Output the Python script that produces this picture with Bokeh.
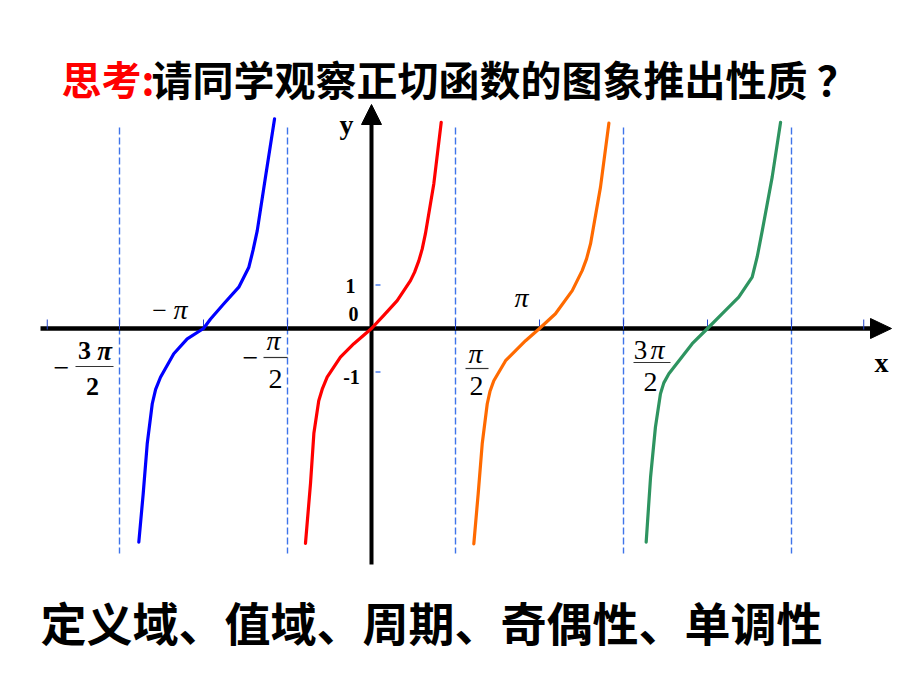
from bokeh.plotting import figure
from bokeh.models import Range1d
from bokeh.core.properties import value
from bokeh.embed import file_html
from bokeh.resources import INLINE

# ---------------- data (x in multiples of pi, y = value of tan branch as drawn) -------------
blue_x = [-0.577, -0.631, -0.680, -0.705, -0.730, -0.790, -0.879, -0.958, -1.000, -1.097, -1.177, -1.256, -1.285, -1.305, -1.335, -1.359, -1.385]
blue_y = [4.82, 3.48, 2.25, 1.80, 1.41, 0.95, 0.57, 0.22, 0.00, -0.24, -0.58, -1.12, -1.40, -1.73, -2.65, -3.80, -4.91]

red_x = [0.415, 0.371, 0.321, 0.302, 0.282, 0.256, 0.232, 0.153, 0.073, 0.000, -0.105, -0.185, -0.264, -0.292, -0.314, -0.343, -0.363, -0.393]
red_y = [4.74, 3.33, 2.18, 1.83, 1.56, 1.29, 1.10, 0.64, 0.30, 0.00, -0.35, -0.66, -1.12, -1.38, -1.66, -2.41, -3.56, -4.94]

orange_x = [1.413, 1.363, 1.304, 1.280, 1.254, 1.195, 1.095, 1.000, 0.917, 0.798, 0.728, 0.705, 0.689, 0.659, 0.635, 0.609]
orange_y = [4.72, 3.25, 1.95, 1.60, 1.33, 0.87, 0.34, 0.00, -0.28, -0.74, -1.20, -1.45, -1.73, -2.65, -3.80, -4.95]

green_x = [2.435, 2.385, 2.326, 2.296, 2.266, 2.186, 2.088, 2.000, 1.909, 1.770, 1.740, 1.720, 1.690, 1.661, 1.635]
green_y = [4.74, 3.48, 2.25, 1.65, 1.18, 0.72, 0.34, 0.00, -0.35, -1.04, -1.25, -1.50, -2.27, -3.42, -4.91]

asymptotes = [-1.5, -0.5, 0.5, 1.5, 2.5]
x_tick_marks = [-1.93, -1.5, -1.0, -0.5, 0.5, 1.0, 1.5, 2.0, 2.5, 2.93]
y_tick_marks = [1, -1]
y_tick_labels = ["1", "0", "-1"]

title_red = "思考:"
title_black = "请同学观察正切函数的图象推出性质 ？"
footer = "定义域、值域、周期、奇偶性、单调性"

# ---------------- layout constants (pixels) ----------------
W, H = 920, 690
OX, OY = 371, 328      # pixel of origin
SX, SY = 168.0, 43.5   # px per pi, px per unit


def X(px):
    return (px - OX) / SX


def Y(py):
    return (OY - py) / SY


def PX(v):
    return OX + SX * v


p = figure(width=W, height=H, output_backend="svg", toolbar_location=None,
           x_range=Range1d(X(0), X(W)), y_range=Range1d(Y(H), Y(0)),
           min_border=0, x_axis_type=None, y_axis_type=None)
p.grid.visible = False
p.outline_line_color = None
p.background_fill_color = "white"
p.border_fill_color = "white"

# asymptotes
p.segment(x0=asymptotes, y0=[Y(127)] * len(asymptotes), x1=asymptotes, y1=[Y(553)] * len(asymptotes),
          line_color="#3f74ea", line_width=1.4, line_dash="7 3")

# axes
p.segment(x0=[X(40)], y0=[0], x1=[X(872)], y1=[0], line_color="black", line_width=4.5)
p.patch(x=[X(870), X(891), X(870)], y=[Y(318), 0, Y(338)], fill_color="black", line_color="black")
p.segment(x0=[0], y0=[Y(564)], x1=[0], y1=[Y(121)], line_color="black", line_width=4)
p.patch(x=[X(361), 0, X(381)], y=[Y(124), Y(104), Y(124)], fill_color="black", line_color="black")

# tick marks
p.segment(x0=x_tick_marks, y0=[Y(319)] * len(x_tick_marks), x1=x_tick_marks, y1=[Y(329)] * len(x_tick_marks),
          line_color="#2244cc", line_width=1)
p.segment(x0=[X(375)] * 2, y0=y_tick_marks, x1=[X(380)] * 2, y1=y_tick_marks, line_color="#3f74ea", line_width=1.4)

# curves
for xs, ys, c in [(blue_x, blue_y, "#0000ff"), (red_x, red_y, "#ff0000"),
                  (orange_x, orange_y, "#ff6a00"), (green_x, green_y, "#2e9460")]:
    p.line(xs, ys, line_color=c, line_width=3.2, line_join="round", line_cap="round")

serif = value("Liberation Serif")

# axis letters
p.text(x=[X(346)], y=[Y(124)], text=["y"], text_font=serif, text_font_style="bold",
       text_font_size="28px", text_align="center", text_baseline="middle", text_color="black")
p.text(x=[X(881)], y=[Y(362)], text=["x"], text_font=serif, text_font_style="bold",
       text_font_size="28px", text_align="center", text_baseline="middle", text_color="black")

# y labels
p.text(x=[X(350), X(353), X(351)], y=[Y(285), Y(313), Y(376)], text=y_tick_labels,
       text_font=serif, text_font_style="bold", text_font_size="20px",
       text_align="center", text_baseline="middle", text_color="black")


def lab(v, dx, py, s, style="normal", size="28px"):
    p.text(x=[X(PX(v) + dx)], y=[Y(py)], text=[s], text_font=serif, text_font_style=style,
           text_font_size=size, text_align="center", text_baseline="middle", text_color="black")


def bar(v, dx0, dx1, py):
    p.segment(x0=[X(PX(v) + dx0)], y0=[Y(py)], x1=[X(PX(v) + dx1)], y1=[Y(py)], line_color="#333333", line_width=1.2)


# -3pi/2
lab(-1.5, -58, 367, "−", "normal", "28px")
lab(-1.5, -35, 350, "3", "bold", "26px")
lab(-1.5, -15, 350, "π", "bold italic", "27px")
bar(-1.5, -44, -6, 366)
lab(-1.5, -27, 386, "2", "bold", "26px")
# -pi
lab(-1.0, -44, 310, "−", "normal", "26px")
lab(-1.0, -23, 309, "π", "italic", "28px")
# -pi/2
lab(-0.5, -37, 357, "−", "normal", "28px")
lab(-0.5, -14, 340, "π", "italic", "28px")
bar(-0.5, -24, 0, 357)
lab(-0.5, -12, 378, "2", "normal", "28px")
# pi/2
lab(0.5, 20, 353, "π", "italic", "28px")
bar(0.5, 10, 33, 368)
lab(0.5, 21, 385, "2", "normal", "28px")
# pi
lab(1.0, -18, 297, "π", "italic", "28px")
# 3pi/2
lab(1.5, 17, 349, "3", "normal", "27px")
lab(1.5, 34, 349, "π", "italic", "28px")
bar(1.5, 10, 47, 362)
lab(1.5, 27, 381, "2", "normal", "28px")

cjk = value("Noto Sans CJK SC")
p.text(x=[X(61)], y=[Y(77)], text=[title_red], text_font=cjk, text_font_style="bold",
       text_font_size="40px", text_align="left", text_baseline="middle", text_color="#ff0000")
p.text(x=[X(151)], y=[Y(77)], text=[title_black], text_font=cjk, text_font_style="bold",
       text_font_size="41px", text_align="left", text_baseline="middle", text_color="black")
p.text(x=[X(40)], y=[Y(620)], text=[footer], text_font=cjk, text_font_style="bold",
       text_font_size="46px", text_align="left", text_baseline="middle", text_color="black")

open("out.html", "w").write(file_html(p, INLINE))
